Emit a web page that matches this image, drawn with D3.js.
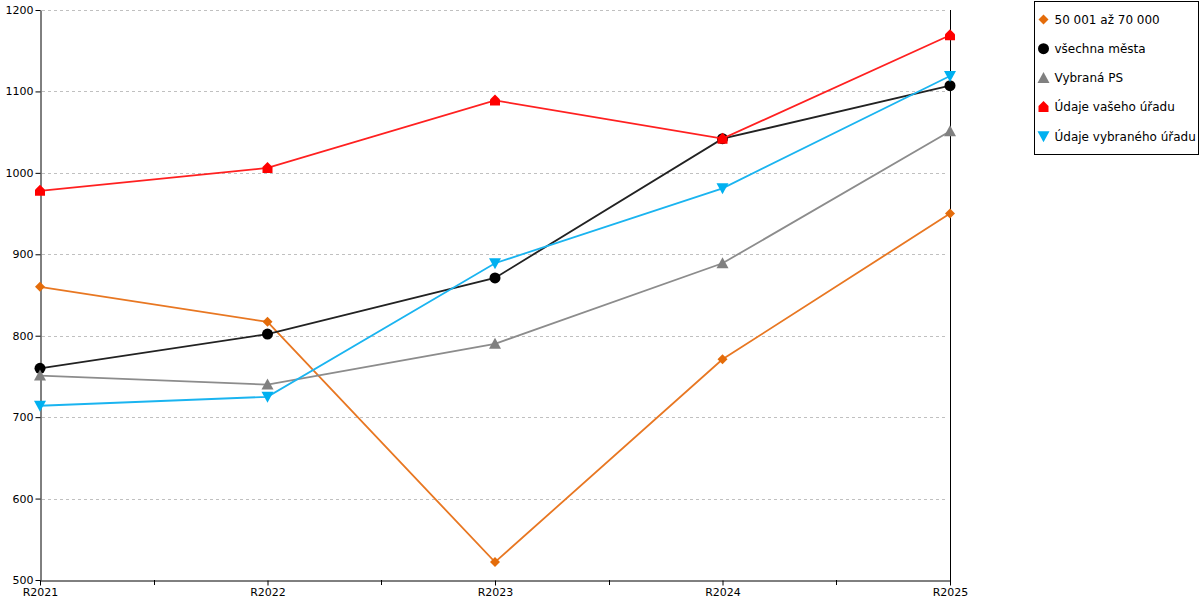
<!DOCTYPE html>
<html>
<head>
<meta charset="utf-8">
<script src="https://cdn.jsdelivr.net/npm/d3@7"></script>
<style>
  body { margin: 0; background: #fff; }
  svg { font-family: "DejaVu Sans", Verdana, sans-serif; }
</style>
</head>
<body>
<svg id="chart" width="1200" height="600"></svg>
<script>
// categories and tick values
var years = ['R2021', 'R2022', 'R2023', 'R2024', 'R2025'];
var yTicks = [500, 600, 700, 800, 900, 1000, 1100, 1200];

// series values
var size50to70 = [860, 817, 522, 771, 950];
var allCities = [760, 802, 871, 1042, 1107];
var selectedPS = [751, 740, 790, 889, 1051];
var yourOffice = [978, 1006, 1089, 1042, 1169];
var selectedOffice = [714, 725, 889, 981, 1119];

var seriesNames = ['50 001 až 70 000', 'všechna města', 'Vybraná PS', 'Údaje vašeho úřadu', 'Údaje vybraného úřadu'];

// series styling
var series = [
    {name: seriesNames[0], values: size50to70, color: '#E46C0A', marker: 'diamond'},
    {name: seriesNames[1], values: allCities, color: '#000000', marker: 'circle'},
    {name: seriesNames[2], values: selectedPS, color: '#808080', marker: 'triangle'},
    {name: seriesNames[3], values: yourOffice, color: '#FF0000', marker: 'house'},
    {name: seriesNames[4], values: selectedOffice, color: '#00B0F0', marker: 'down'}
];
var lineColors = {'#E46C0A': '#E87722', '#000000': '#222222', '#808080': '#8c8c8c', '#FF0000': '#FF2020', '#00B0F0': '#1AB4F0'};

// plot area (note: "top" is reserved on window)
var plotLeft = 40, plotRight = 950, plotTop = 10, plotBottom = 580;

var svg = d3.select('#chart');

var x = d3.scalePoint().domain(years).range([plotLeft, plotRight]);
var y = d3.scaleLinear().domain([500, 1200]).range([plotBottom, plotTop]);

// gridlines
svg.append('g')
    .selectAll('line')
    .data(yTicks.slice(1))
    .enter().append('line')
        .attr('x1', plotLeft + 2)
        .attr('x2', plotRight - 3)
        .attr('y1', function(d){ return Math.round(y(d)) + 0.5; })
        .attr('y2', function(d){ return Math.round(y(d)) + 0.5; })
        .attr('stroke', '#c0c0c0')
        .attr('stroke-dasharray', '3,3');

// y axis
var yAxis = svg.append('g')
    .attr('transform', 'translate(' + (plotLeft + 0.5) + ',0)')
    .call(d3.axisLeft(y).tickValues(yTicks).tickSize(5).tickSizeOuter(0).tickFormat(d3.format('d')));
yAxis.attr('font-family', '"DejaVu Sans", Verdana, sans-serif').attr('font-size', 11);
yAxis.select('.domain').attr('stroke', '#000');
yAxis.selectAll('text').attr('fill', '#000').attr('x', -7);

// x axis
var xAxis = svg.append('g')
    .attr('transform', 'translate(0,' + (plotBottom + 0.5) + ')')
    .call(d3.axisBottom(x).tickSize(5).tickSizeOuter(0));
xAxis.attr('font-family', '"DejaVu Sans", Verdana, sans-serif').attr('font-size', 11);
xAxis.select('.domain').attr('stroke', '#000');
xAxis.selectAll('text').attr('fill', '#000').attr('dy', '0.95em').attr('y', 5);

// minor ticks between categories
var mids = d3.pairs(years).map(function(p){ return (x(p[0]) + x(p[1])) / 2; });
svg.append('g')
    .selectAll('line')
    .data(mids)
    .enter().append('line')
        .attr('x1', function(d){ return Math.round(d) + 0.5; })
        .attr('x2', function(d){ return Math.round(d) + 0.5; })
        .attr('y1', plotBottom)
        .attr('y2', plotBottom + 5)
        .attr('stroke', '#000');

// right border line
svg.append('line')
    .attr('x1', plotRight + 0.5).attr('x2', plotRight + 0.5)
    .attr('y1', plotTop).attr('y2', plotBottom + 5)
    .attr('stroke', '#000');

// marker shapes
function markerPath(type){
    switch(type){
        case 'diamond': return 'M0,-5L5,0L0,5L-5,0Z';
        case 'circle': return d3.symbol().type(d3.symbolCircle).size(95)();
        case 'triangle': return 'M0,-6L6,5L-6,5Z';
        case 'house': return 'M0,-6L5,-1L5,5L-5,5L-5,-1Z';
        case 'down': return 'M-6,-5L6,-5L0,6Z';
    }
}

var line = d3.line()
    .x(function(d, i){ return x(years[i]); })
    .y(function(d){ return y(d); });

series.forEach(function(s){
    var g = svg.append('g');
    g.append('path')
        .datum(s.values)
        .attr('d', line)
        .attr('fill', 'none')
        .attr('stroke', lineColors[s.color])
        .attr('stroke-width', 1.8);
    g.selectAll('path.marker')
        .data(s.values)
        .enter().append('path')
            .attr('class', 'marker')
            .attr('d', markerPath(s.marker))
            .attr('transform', function(d, i){ return 'translate(' + x(years[i]) + ',' + y(d) + ')'; })
            .attr('fill', s.color);
});

// legend
var legend = svg.append('g').attr('transform', 'translate(1034.5,1.5)');
legend.append('rect')
    .attr('width', 164)
    .attr('height', 153)
    .attr('fill', '#fff')
    .attr('stroke', '#000');

var items = legend.selectAll('g.item')
    .data(series)
    .enter().append('g')
        .attr('class', 'item')
        .attr('transform', function(d, i){ return 'translate(9,' + (18 + i * 29.2) + ')'; });
items.append('path')
    .attr('d', function(d){ return markerPath(d.marker); })
    .attr('fill', function(d){ return d.color; });
items.append('text')
    .attr('x', 11)
    .attr('dy', '0.35em')
    .attr('font-size', 12)
    .attr('fill', '#000')
    .text(function(d){ return d.name; });
</script>
</body>
</html>
